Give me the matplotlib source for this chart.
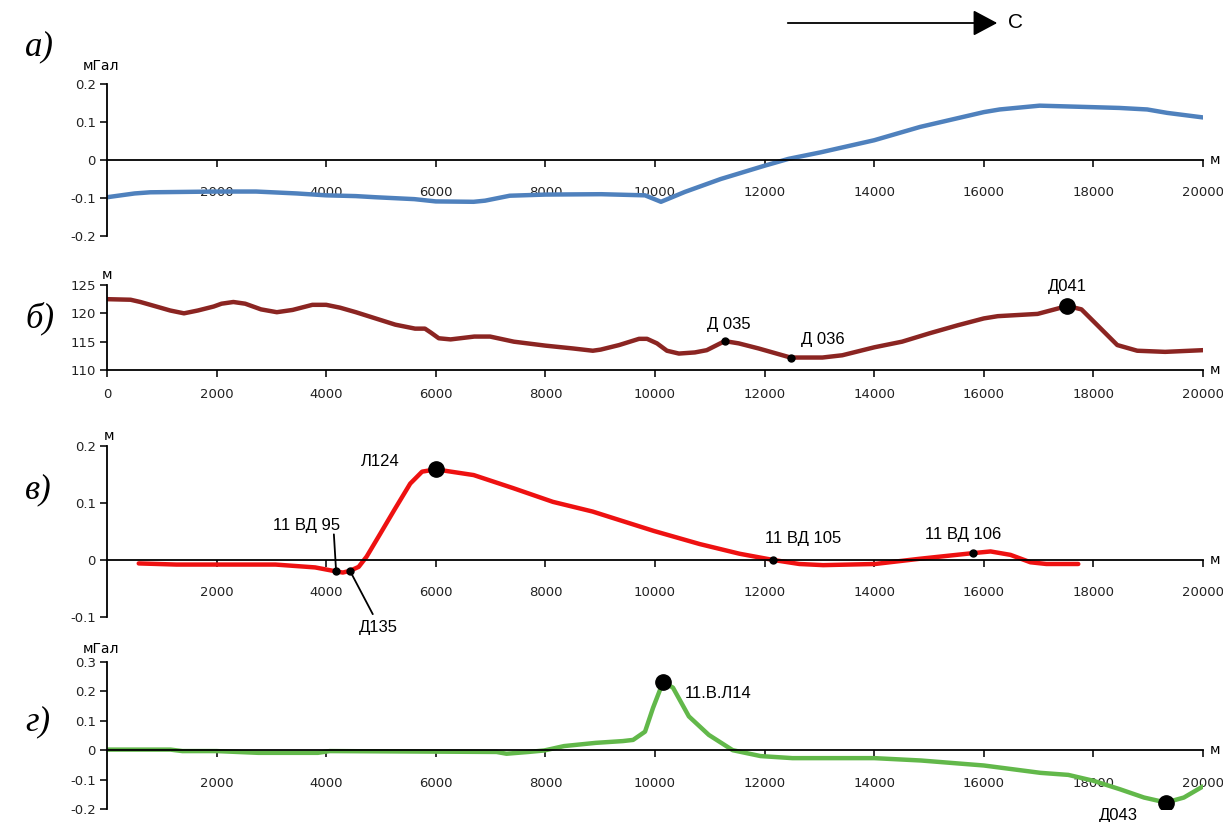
import matplotlib.pyplot as plt

# --- а) gravity anomaly, mGal
grav_x = [0, 505, 790, 2000, 2720, 3460, 4000, 4540, 4900, 5610, 6000, 6690, 6900,
          7350, 8000, 9018, 9818, 10109, 10545, 11200, 12000, 12436, 13018, 14000,
          14836, 16000, 16290, 17018, 18000, 18473, 18982, 19345, 20000]
grav_y = [-0.098, -0.088, -0.085, -0.083, -0.083, -0.088, -0.093, -0.095, -0.098,
          -0.103, -0.109, -0.110, -0.107, -0.094, -0.091, -0.090, -0.093, -0.110,
          -0.084, -0.050, -0.015, 0.003, 0.020, 0.052, 0.087, 0.126, 0.133, 0.143,
          0.139, 0.137, 0.133, 0.124, 0.112]

# --- б) relief, m
rel_x = [0, 430, 610, 937, 1153, 1405, 1658, 1946, 2090, 2306, 2522, 2810, 3099,
         3387, 3748, 4000, 4252, 4541, 4901, 5261, 5622, 5802, 5910, 6054, 6270,
         6703, 6991, 7423, 8000, 8505, 8865, 9009, 9345, 9709, 9855, 10036, 10218,
         10436, 10727, 10945, 11273, 11527, 11891, 12473, 13055, 13418, 14000,
         14509, 15018, 15527, 16000, 16255, 16982, 17527, 17782, 18073, 18436,
         18800, 19309, 20000]
rel_y = [122.5, 122.4, 122.0, 121.1, 120.5, 120.0, 120.5, 121.2, 121.7, 122.0,
         121.7, 120.7, 120.2, 120.6, 121.5, 121.5, 121.0, 120.2, 119.1, 118.0,
         117.3, 117.3, 116.6, 115.6, 115.4, 115.9, 115.9, 115.0, 114.3, 113.8,
         113.4, 113.6, 114.4, 115.5, 115.5, 114.7, 113.4, 112.9, 113.1, 113.5,
         115.1, 114.7, 113.8, 112.2, 112.2, 112.6, 114.0, 115.0, 116.5, 117.9,
         119.1, 119.5, 119.9, 121.3, 120.7, 117.9, 114.4, 113.4, 113.2, 113.5]
rel_pts = ["Д 035", "Д 036", "Д041"]
rel_pts_x = [11273, 12473, 17527]
rel_pts_y = [115.1, 112.2, 121.3]

# --- в) m
dz_x = [579, 1266, 3074, 3797, 4181, 4304, 4434, 4593, 4738, 4955, 5244, 5533,
        5750, 6000, 6691, 7414, 8137, 8861, 9353, 9978, 10815, 11542, 12160,
        12633, 13069, 14015, 14815, 15796, 16124, 16487, 16851, 17142, 17724]
dz_y = [-0.006, -0.008, -0.008, -0.013, -0.020, -0.022, -0.019, -0.012, 0.006,
        0.041, 0.088, 0.134, 0.155, 0.159, 0.149, 0.126, 0.102, 0.085, 0.070,
        0.051, 0.028, 0.011, 0.000, -0.007, -0.009, -0.007, 0.002, 0.012, 0.015,
        0.009, -0.004, -0.007, -0.007]
dz_pts = ["11 ВД 95", "Д135", "Л124", "11 ВД 105", "11 ВД 106"]
dz_pts_x = [4181, 4434, 6000, 12160, 15796]
dz_pts_y = [-0.020, -0.019, 0.159, 0.000, 0.012]

# --- г) mGal
g2_x = [0, 1159, 1377, 2000, 2761, 3848, 4065, 7109, 7290, 7688, 7978, 8340,
        8920, 9413, 9600, 9818, 9964, 10145, 10327, 10618, 10982, 11418, 11927,
        12509, 14000, 14851, 16000, 17033, 17542, 18000, 18487, 18924, 19324,
        19651, 20000]
g2_y = [0.002, 0.002, -0.003, -0.003, -0.009, -0.009, -0.003, -0.006, -0.012,
        -0.006, -0.001, 0.014, 0.025, 0.031, 0.035, 0.063, 0.144, 0.231, 0.213,
        0.115, 0.052, 0.000, -0.020, -0.027, -0.027, -0.035, -0.052, -0.077,
        -0.084, -0.104, -0.133, -0.161, -0.178, -0.161, -0.123]
g2_pts = ["11.В.Л14", "Д043"]
g2_pts_x = [10145, 19324]
g2_pts_y = [0.231, -0.178]

x_ticks = list(range(2000, 20001, 2000))

W, H = 1223, 822
fig = plt.figure(figsize=(W / 100, H / 100), dpi=100)


def make_axes(top_px, bottom_px):
    left, right = 107, 1203
    return fig.add_axes([left / W, 1 - bottom_px / H, (right - left) / W,
                         (bottom_px - top_px) / H])


def style(ax, yticks, ylabels, base, xticks, xlabels, unit, unit_pos):
    ax.set_xlim(0, 20000)
    ax.set_ylim(yticks[-1], yticks[0])
    for s in ["top", "right"]:
        ax.spines[s].set_visible(False)
    ax.spines["bottom"].set_position(("data", base))
    ax.spines["left"].set_linewidth(1.3)
    ax.spines["bottom"].set_linewidth(1.3)
    ax.set_yticks(yticks)
    ax.set_yticklabels(ylabels)
    ax.set_xticks(xticks)
    ax.set_xticklabels(xlabels)
    ax.tick_params(axis="y", direction="out", length=5, width=1.3, pad=3,
                   labelsize=9.5, colors="#222222")
    ax.tick_params(axis="x", direction="out", length=5, width=1.3, pad=14,
                   labelsize=9.5, colors="#222222")
    ax.text(20120, base, "м", fontsize=10, va="center", ha="left", clip_on=False)
    ax.text(unit_pos[0], unit_pos[1], unit, fontsize=10, va="bottom", ha="left",
            clip_on=False)
    ax.patch.set_alpha(0)


def ylab(vals):
    return [("%g" % v) for v in vals]


lw = 3.2
mfont = dict(fontsize=12, family="Liberation Sans")
pfont = dict(fontsize=25, family="Liberation Serif", style="italic")

# а)
ax1 = make_axes(84, 236)
a_ticks = [0.2, 0.1, 0, -0.1, -0.2]
ax1.plot(grav_x, grav_y, color="#4F81BD", lw=lw, solid_capstyle="round")
style(ax1, a_ticks, ylab(a_ticks), 0, x_ticks, [str(t) for t in x_ticks],
      "мГал", (-450, 0.23))
fig.text(25 / W, 1 - 47 / H, "а)", va="center", ha="left", **pfont)

# б)
ax2 = make_axes(285, 370)
b_ticks = [125, 120, 115, 110]
ax2.plot(rel_x, rel_y, color="#8B2522", lw=lw, solid_capstyle="round")
style(ax2, b_ticks, ylab(b_ticks), 110, [0] + x_ticks,
      ["0"] + [str(t) for t in x_ticks], "м", (-100, 125.5))
ax2.tick_params(axis="x", pad=8)
for name, x, y, s in zip(rel_pts, rel_pts_x, rel_pts_y, [5, 5, 11]):
    ax2.plot(x, y, "o", color="black", ms=s, zorder=5)
ax2.text(11345, 118.0, rel_pts[0], ha="center", va="center", **mfont)
ax2.text(13055, 115.3, rel_pts[1], ha="center", va="center", **mfont)
ax2.text(17527, 124.8, rel_pts[2], ha="center", va="center", **mfont)
fig.text(25 / W, 1 - 318 / H, "б)", va="center", ha="left", **pfont)

# в)
ax3 = make_axes(446, 617)
c_ticks = [0.2, 0.1, 0, -0.1]
ax3.plot(dz_x, dz_y, color="#EE1111", lw=lw, solid_capstyle="round")
style(ax3, c_ticks, ylab(c_ticks), 0, x_ticks, [str(t) for t in x_ticks],
      "м", (-60, 0.205))
for x, y, s in zip(dz_pts_x, dz_pts_y, [5, 5, 11, 5, 5]):
    ax3.plot(x, y, "o", color="black", ms=s, zorder=5)
# leader lines for the two close points
ax3.annotate("", xy=(dz_pts_x[0], dz_pts_y[0]), xytext=(4140, 0.045),
             arrowprops=dict(arrowstyle="-", color="black", lw=1.3,
                             shrinkA=0, shrinkB=0))
ax3.annotate("", xy=(dz_pts_x[1], dz_pts_y[1]), xytext=(4850, -0.095),
             arrowprops=dict(arrowstyle="-", color="black", lw=1.3,
                             shrinkA=0, shrinkB=0))
ax3.text(3636, 0.060, dz_pts[0], ha="center", va="center", **mfont)
ax3.text(4955, -0.118, dz_pts[1], ha="center", va="center", **mfont)
ax3.text(4991, 0.172, dz_pts[2], ha="center", va="center", **mfont)
ax3.text(12706, 0.037, dz_pts[3], ha="center", va="center", **mfont)
ax3.text(15615, 0.044, dz_pts[4], ha="center", va="center", **mfont)
fig.text(25 / W, 1 - 490 / H, "в)", va="center", ha="left", **pfont)

# г)
ax4 = make_axes(662, 809)
d_ticks = [0.3, 0.2, 0.1, 0, -0.1, -0.2]
ax4.plot(g2_x, g2_y, color="#62B84A", lw=lw, solid_capstyle="round")
style(ax4, d_ticks, ylab(d_ticks), 0, x_ticks, [str(t) for t in x_ticks],
      "мГал", (-450, 0.32))
for x, y in zip(g2_pts_x, g2_pts_y):
    ax4.plot(x, y, "o", color="black", ms=11, zorder=5)
ax4.text(10545, 0.193, g2_pts[0], ha="left", va="center", **mfont)
ax4.text(18450, -0.222, g2_pts[1], ha="center", va="center", **mfont)
fig.text(25 / W, 1 - 722 / H, "г)", va="center", ha="left", **pfont)

# direction arrow
fig.patches.append(plt.matplotlib.patches.FancyArrowPatch(
    (785 / W, 1 - 23 / H), (1000 / W, 1 - 23 / H), transform=fig.transFigure,
    arrowstyle="-|>,head_length=0.75,head_width=0.4", mutation_scale=20,
    color="black", lw=1.3))
fig.text(1008 / W, 1 - 23 / H, "С", fontsize=15, family="Liberation Sans",
         va="center", ha="left")

fig.savefig("out.png", dpi=100)
